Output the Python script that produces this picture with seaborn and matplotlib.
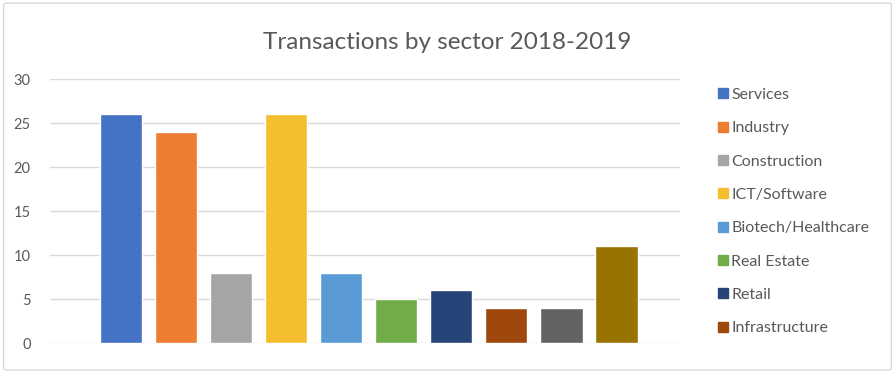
import numpy as np
import pandas as pd
import seaborn as sns
import matplotlib.pyplot as plt
from matplotlib.lines import Line2D
from matplotlib.patches import FancyBboxPatch

sns.set_style("white")
plt.rcParams["font.family"] = ["Lato", "DejaVu Sans"]

# Data
sectors = ["Services", "Industry", "Construction", "ICT/Software",
           "Biotech/Healthcare", "Real Estate", "Retail", "Infrastructure",
           "Energy", "Other"]
transactions = [26, 24, 8, 26, 8, 5, 6, 4, 4, 11]
# only the first 8 sectors show in the legend of the original
legend_count = 8
colors = ["#4472C4", "#ED7D31", "#A5A5A5", "#F5BE2F", "#5B9BD5",
          "#70AD47", "#264478", "#9E480E", "#636363", "#997300"]

df = pd.DataFrame({"sector": sectors, "transactions": transactions})

fig = plt.figure(figsize=(8.95, 3.73), dpi=100)
ax = fig.add_axes([0.056, 0.080, 0.704, 0.708])

sns.barplot(data=df, x="sector", y="transactions", hue="sector",
            palette=colors, width=0.77, legend=False, ax=ax,
            saturation=1)

ax.set_ylim(0, 30)
ax.set_yticks(range(0, 31, 5))
ax.set_xlim(-1.29, len(sectors) - 1 + 1.16)
ax.set_xticks([])
ax.set_xlabel("")
ax.set_ylabel("")
ax.yaxis.grid(True, color="#D9D9D9", linewidth=1)
ax.set_axisbelow(True)
sns.despine(ax=ax, left=True, bottom=True)
ax.tick_params(axis="y", length=0, pad=14, labelsize=10.5, labelcolor="#595959")

fig.suptitle("Transactions by sector 2018-2019", x=0.5, y=0.915,
             fontsize=17.5, color="#595959")

# legend with square markers
handles = [Line2D([], [], marker="s", linestyle="", markersize=7,
                  markerfacecolor=c, markeredgecolor=c)
           for c in colors[:legend_count]]
fig.legend(handles, sectors[:legend_count], loc="upper left",
           bbox_to_anchor=(0.795, 0.782), frameon=False, fontsize=11.5,
           labelcolor="#595959", handlelength=0.6, handletextpad=0.25,
           labelspacing=1.2, borderaxespad=0)

# light rounded border round the whole chart
fig.patches.append(FancyBboxPatch((0.004, 0.008), 0.992, 0.984,
                                  boxstyle="round,pad=0,rounding_size=0.005",
                                  transform=fig.transFigure, fill=False,
                                  edgecolor="#D9D9D9", linewidth=1))

fig.savefig("out.png", dpi=100)
